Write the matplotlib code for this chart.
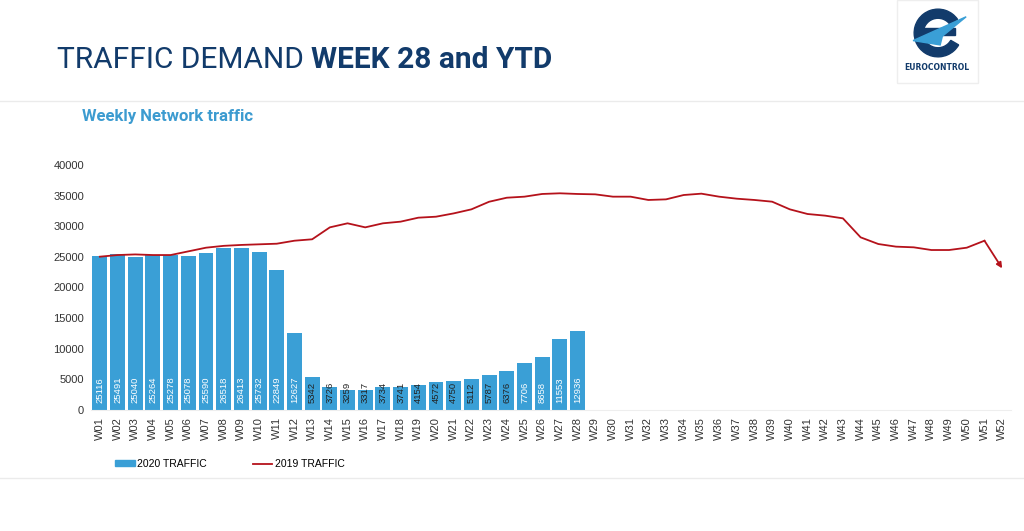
import matplotlib
matplotlib.use("Agg")
import matplotlib.pyplot as plt
from matplotlib.patches import Wedge, Polygon, Rectangle
from matplotlib.lines import Line2D
import numpy as np

weeks = [f"W{i:02d}" for i in range(1, 53)]
traffic_2020 = [25116, 25491, 25040, 25264, 25278, 25078, 25590, 26518, 26413, 25732,
                22849, 12627, 5342, 3726, 3259, 3317, 3734, 3741, 4154, 4572,
                4750, 5112, 5787, 6376, 7706, 8658, 11553, 12936]
traffic_2019 = [25030, 25300, 25400, 25300, 25300, 25900, 26500, 26800, 26950, 27050,
                27150, 27640, 27870, 29820, 30480, 29820, 30480, 30750, 31400, 31560,
                32100, 32760, 34000, 34660, 34830, 35270, 35380, 35270, 35210, 34830,
                34830, 34290, 34390, 35100, 35320, 34830, 34500, 34290, 34010, 32760,
                32000, 31730, 31290, 28190, 27100, 26670, 26560, 26120, 26120, 26500,
                27640, 23130]
yticks = [0, 5000, 10000, 15000, 20000, 25000, 30000, 35000, 40000]

BLUE = "#3A9FD6"
RED = "#B5121B"
NAVY = "#123B6B"
SANS = "Liberation Sans"

fig = plt.figure(figsize=(10.24, 5.31), dpi=100)
fig.patch.set_facecolor("white")

W, H = 1024, 531
def fx(px):
    return px / W
def fy(py):
    return 1 - py / H

# Title
t1 = fig.text(fx(57), fy(60), "TRAFFIC DEMAND ", fontsize=21.5, color=NAVY, family="Roboto",
              fontweight="normal", va="center", ha="left")
fig.canvas.draw()
bb = t1.get_window_extent()
fig.text(bb.x1 / W, fy(60), "WEEK 28 and YTD", fontsize=21.5, color=NAVY, family="Roboto",
         fontweight="bold", va="center", ha="left")

# separator lines
fig.add_artist(Line2D([0, 1], [fy(101), fy(101)], color="#EBEBEB", lw=1, zorder=-1))
fig.add_artist(Line2D([0, 1], [fy(478), fy(478)], color="#EBEBEB", lw=1, zorder=-1))

# Subtitle
fig.text(fx(82), fy(116), "Weekly Network traffic", fontsize=12, color="#3C9BD0",
         fontweight="bold", family="Roboto", va="center", ha="left")

# Logo box
fig.add_artist(Rectangle((fx(897), fy(83)), (978 - 897) / W, 83 / H, transform=fig.transFigure,
                         facecolor="none", edgecolor="#EEEEEE", lw=1, zorder=-1))
lax = fig.add_axes([fx(905), fy(59), 66 / W, 52 / H])
lax.set_xlim(-1.4, 1.4)
lax.set_ylim(-1.2, 1.2)
lax.set_aspect("equal")
lax.axis("off")
lax.add_patch(Wedge((0, 0), 1.1, 35, 330, width=0.42, color=NAVY))
lax.add_patch(Rectangle((-0.7, -0.08), 1.5, 0.32, color=NAVY))
lax.add_patch(Polygon([[-1.15, -0.35], [1.3, 0.75], [0.2, -0.15], [0.1, -0.55]], color="#3A9FD6"))
fig.text(fx(937), fy(68), "EUROCONTROL", fontsize=5.5, color=NAVY, fontweight="bold",
         ha="center", va="center")

# Main axes
ax = fig.add_axes([fx(91), fy(410), 920 / W, 245 / H])
x = np.arange(len(weeks))
xb = np.arange(len(traffic_2020))
ax.bar(xb, traffic_2020, width=0.84, color=BLUE, zorder=2)
for xi, v in zip(xb, traffic_2020):
    col = "white" if v > 7000 else "#222222"
    ax.text(xi, 1100, str(v), rotation=90, ha="center", va="bottom", fontsize=6.8,
            color=col, zorder=3, family=SANS)

ax.plot(x[:-1], traffic_2019[:-1], color=RED, lw=1.3, zorder=4)
ax.annotate("", xy=(x[-1], traffic_2019[-1]), xytext=(x[-2], traffic_2019[-2]),
            arrowprops=dict(arrowstyle="-|>", color=RED, lw=1.3, mutation_scale=8,
                            shrinkA=0, shrinkB=0), zorder=4)

ax.set_xlim(-0.5, len(weeks) - 0.5)
ax.set_ylim(0, 40000)
ax.set_yticks(yticks)
ax.set_yticklabels([str(t) for t in yticks], fontsize=8, color="#333333", family=SANS)
ax.set_xticks(x)
ax.set_xticklabels(weeks, rotation=90, fontsize=8, color="#333333", family=SANS)
ax.tick_params(length=0, pad=5)
for s in ["top", "right", "left"]:
    ax.spines[s].set_visible(False)
ax.spines["bottom"].set_color("#EEEEEE")

# Legend
handles = [Rectangle((0, 0), 1, 1, color=BLUE), Line2D([0], [0], color=RED, lw=1.3)]
fig.legend(handles, ["2020 TRAFFIC", "2019 TRAFFIC"], loc="center left",
           bbox_to_anchor=(fx(110), fy(464)), ncol=2, frameon=False,
           prop={"family": SANS, "size": 7.5},
           handlelength=1.9, handleheight=0.5, handletextpad=0.2, columnspacing=4.4,
           borderpad=0)

fig.savefig("out.png", dpi=100, facecolor="white")
